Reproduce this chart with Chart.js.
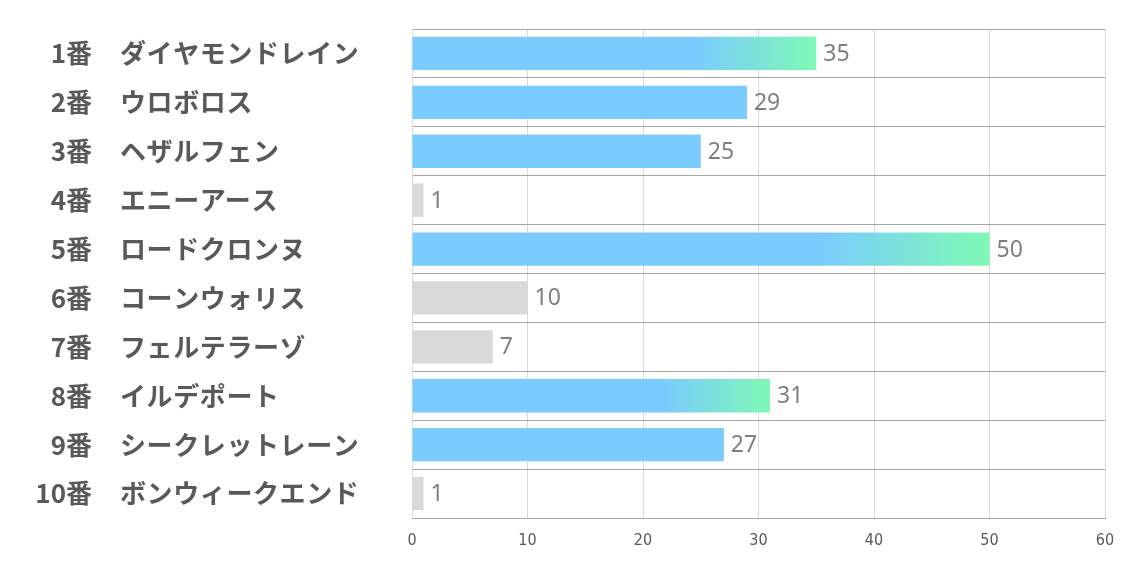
<!DOCTYPE html>
<html>
<head>
<meta charset="utf-8">
<script src="https://cdn.jsdelivr.net/npm/chart.js@4.4.1/dist/chart.umd.min.js"></script>
<style>
  body { margin: 0; background: #fff; }
  #wrap { width: 1134px; height: 567px; }
</style>
</head>
<body>
<div id="wrap"><canvas id="grafVotos"></canvas></div>
<script>
// datos de la carrera
const umaban = ['1番', '2番', '3番', '4番', '5番', '6番', '7番', '8番', '9番', '10番'];
const bamei = ['ダイヤモンドレイン', 'ウロボロス', 'ヘザルフェン', 'エニーアース', 'ロードクロンヌ',
  'コーンウォリス', 'フェルテラーゾ', 'イルデポート', 'シークレットレーン', 'ボンウィークエンド'];
const valores = [35, 29, 25, 1, 50, 10, 7, 31, 27, 1];
const ejeX = [0, 10, 20, 30, 40, 50, 60];

const azul = '#7acbff';
const verde = '#7ff9b5';
const gris = '#d9d9d9';

function colorBarra(ctx) {
  const v = ctx.raw;
  if (v <= 10) return gris;
  if (v < 30) return azul;
  const chart = ctx.chart;
  if (!chart.chartArea) return azul;
  const x = chart.scales.x;
  const x0 = x.getPixelForValue(0);
  const x1 = x.getPixelForValue(v);
  const g = chart.ctx.createLinearGradient(x0, 0, x1, 0);
  g.addColorStop(0, azul);
  g.addColorStop(0.7, azul);
  g.addColorStop(1, verde);
  return g;
}

// etiquetas de la izquierda y valores al final de cada barra
const textos = {
  id: 'textos',
  afterDraw(chart) {
    const c = chart.ctx;
    const y = chart.scales.y;
    const meta = chart.getDatasetMeta(0);
    c.save();
    c.textBaseline = 'middle';
    for (let i = 0; i < umaban.length; i++) {
      const py = y.getPixelForValue(i);
      c.fillStyle = '#595959';
      c.font = 'bold 26px "Noto Sans CJK JP"';
      c.letterSpacing = '0px';
      c.textAlign = 'right';
      c.fillText(umaban[i], 92, py);
      c.textAlign = 'left';
      c.letterSpacing = '0.6px';
      c.fillText(bamei[i], 120, py);
      c.letterSpacing = '0px';

      c.fillStyle = '#7f7f7f';
      c.font = '23px "Noto Sans"';
      c.fillText(String(valores[i]), meta.data[i].x + 7, py + 1);
    }
    c.restore();
  }
};

const ctx = document.getElementById('grafVotos').getContext('2d');
new Chart(ctx, {
  type: 'bar',
  data: {
    labels: umaban.map((n, i) => n + '　' + bamei[i]),
    datasets: [{
      data: valores,
      backgroundColor: colorBarra,
      borderWidth: 0,
      barPercentage: 0.68,
      categoryPercentage: 1
    }]
  },
  options: {
    indexAxis: 'y',
    responsive: true,
    maintainAspectRatio: false,
    animation: false,
    layout: { padding: { top: 29, right: 29, left: 0, bottom: 0 } },
    plugins: {
      legend: { display: false },
      tooltip: { enabled: false }
    },
    scales: {
      x: {
        min: ejeX[0],
        max: ejeX[ejeX.length - 1],
        afterBuildTicks(s) { s.ticks = ejeX.map(v => ({ value: v })); },
        afterFit(s) { s.height = 49; },
        grid: { color: '#d9d9d9', drawTicks: false },
        border: { color: '#a6a6a6' },
        ticks: {
          padding: 13,
          color: '#595959',
          font: { family: 'DejaVu Sans Condensed, Noto Sans', size: 16 }
        }
      },
      y: {
        afterFit(s) { s.width = 412; },
        grid: { color: '#a6a6a6', drawTicks: false, offset: true },
        border: { color: '#d9d9d9' },
        ticks: { display: false }
      }
    }
  },
  plugins: [textos]
});
</script>
</body>
</html>
